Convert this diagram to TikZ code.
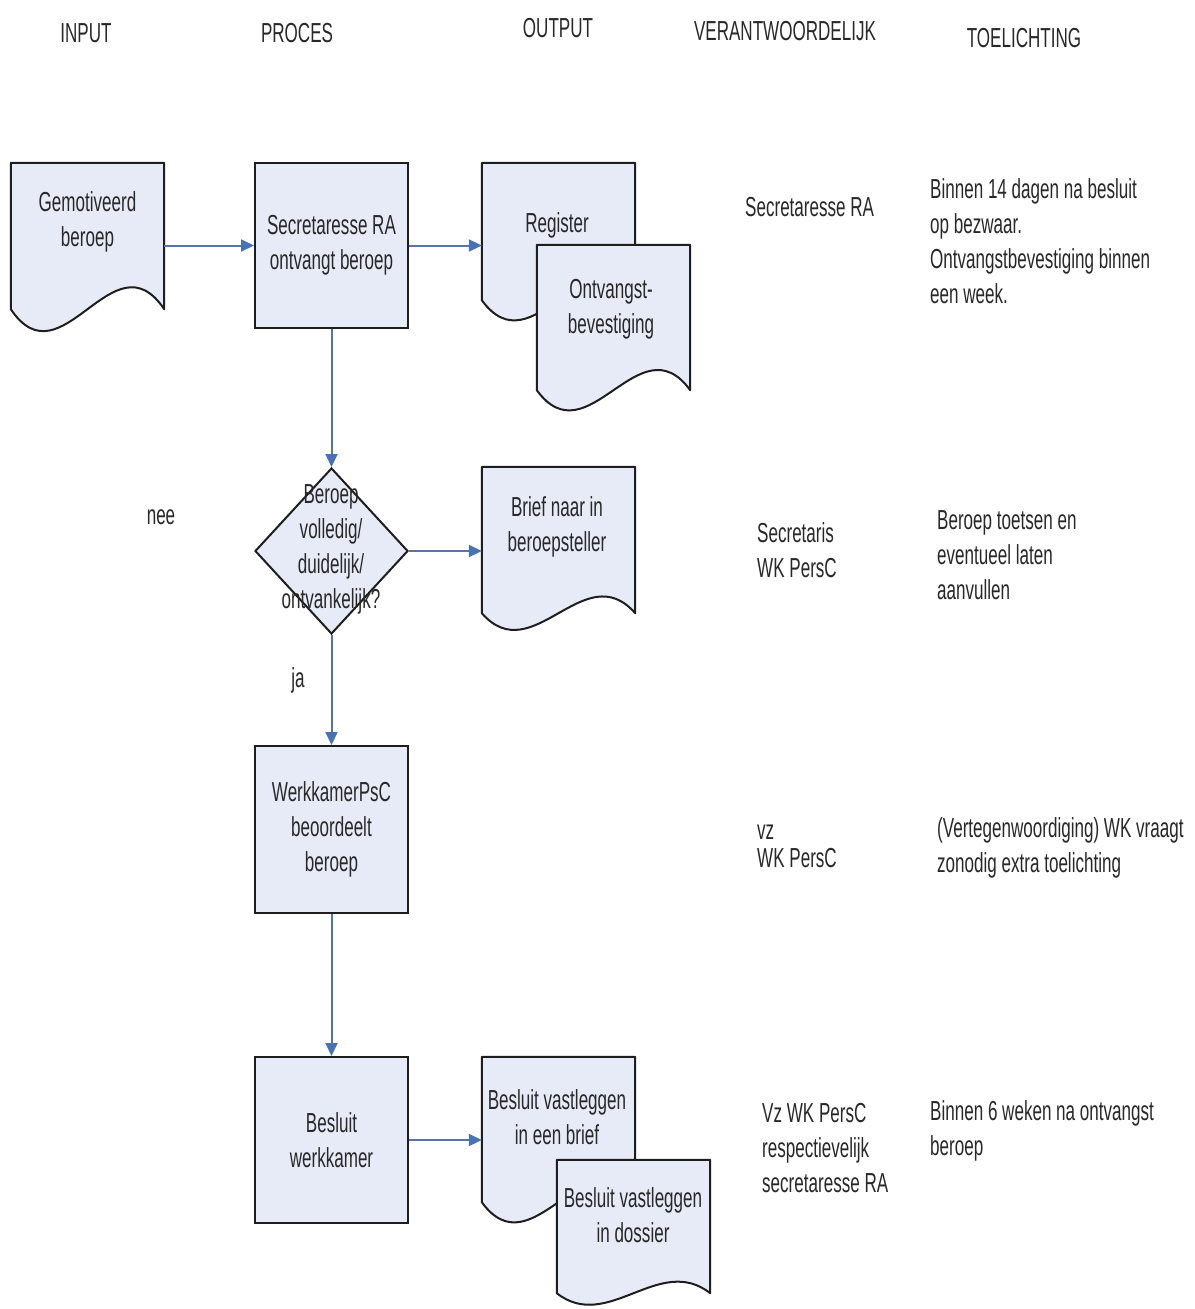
\documentclass[tikz,border=0pt]{standalone}
\usepackage{fontspec}
\setmainfont{Liberation Sans}[FakeStretch=0.62]
\usetikzlibrary{shapes.geometric,arrows.meta,calc}
\definecolor{boxfill}{RGB}{231,235,247}
\definecolor{linecol}{RGB}{88,116,164}
\definecolor{tipcol}{RGB}{70,114,184}
\definecolor{edgecol}{RGB}{30,30,30}
\definecolor{txtcol}{RGB}{40,40,40}
\newcommand\docout[2]{%
  \path[docpath] (#1.north west) -- (#1.north east) -- (#1.south east)
    .. controls ($(#1.south east)+(-51,-#2)$) and ($(#1.south west)+(51,#2)$) .. (#1.south west) -- cycle;}
\begin{document}
\begin{tikzpicture}[x=1pt,y=-1pt,
  font=\fontsize{27.5}{35}\selectfont,
  txt/.style={inner sep=0pt, align=center, text=txtcol},
  ltxt/.style={inner sep=0pt, align=left, anchor=west, text=txtcol},
  procbox/.style={draw=edgecol, line width=2pt, fill=boxfill, minimum width=153pt, inner sep=0pt, align=center, text=txtcol},
  docbox/.style={inner sep=0pt, minimum width=153pt},
  docpath/.style={draw=edgecol, line width=2pt, fill=boxfill, line join=round},
  conn/.style={draw=linecol, line width=2pt},
  arr/.style={conn, -{Triangle[length=13pt,width=12pt,color=tipcol]}}
]
\useasboundingbox[fill=white] (0,0) rectangle (1194,1309);

% headers
\node[txt] (hin) at (86,33) {INPUT};
\node[txt] (hpr) at (297,33) {PROCES};
\node[txt] (hout) at (558,28) {OUTPUT};
\node[txt] (hver) at (785,31) {VERANTWOORDELIJK};
\node[txt] (htoe) at (1024,38) {TOELICHTING};

% shapes
\node[docbox, minimum height=146pt] (g) at (87.5,236) {};
\docout{g}{76}
\node[txt] (gt) at (87.5,222) {Gemotiveerd\\beroep};

\node[procbox, minimum height=165pt] (p1) at (331.5,245.5) {Secretaresse RA\\ontvangt beroep};

\node[docbox, minimum height=137pt] (reg) at (558.5,231.5) {};
\docout{reg}{70}
\node[txt] (regt) at (557,225) {Register};

\node[docbox, minimum height=145pt] (ont) at (613.5,317.5) {};
\docout{ont}{70}
\node[txt] (ontt) at (611,309) {Ontvangst-\\bevestiging};

\node[diamond, draw=edgecol, line width=2pt, fill=boxfill, minimum width=153pt, minimum height=166pt, inner sep=0pt] (d) at (331.5,551) {};
\node[txt] (dt) at (331,549) {Beroep\\volledig/\\duidelijk/\\ontvankelijk?};

\node[docbox, minimum height=146pt] (brief) at (558.5,540) {};
\docout{brief}{58}
\node[txt] (brieft) at (557,527) {Brief naar in\\beroepsteller};

\node[txt] (nee) at (161,517) {nee};
\node[txt] (ja) at (298,680) {ja};

\node[procbox, minimum height=167pt] (p2) at (331.5,829.5) {WerkkamerPsC\\beoordeelt\\beroep};
\node[procbox, minimum height=166pt] (p3) at (331.5,1140) {Besluit\\werkkamer};

\node[docbox, minimum height=145pt] (bv1) at (558.5,1129.5) {};
\docout{bv1}{70}
\node[txt] (bv1t) at (557,1117) {Besluit vastleggen\\in een brief};

\node[docbox, minimum height=133pt] (bv2) at (633.5,1226.5) {};
\docout{bv2}{40}
\node[txt] (bv2t) at (633,1215) {Besluit vastleggen\\in dossier};

% connectors
\draw[arr] (g.east |- p1.west) -- (p1.west);
\draw[arr] (p1.east) -- (p1.east -| reg.west);
\draw[arr] (p1.south) -- (d.north);
\draw[arr] (d.east) -- (d.east -| brief.west);
\draw[arr] (d.south) -- (p2.north);
\draw[arr] (p2.south) -- (p3.north);
\draw[arr] (p3.east) -- (p3.east -| bv1.west);

% verantwoordelijk
\node[ltxt] (v1) at (745,207) {Secretaresse RA};
\node[ltxt] (v2) at (757,550) {Secretaris\\WK PersC};
\node[ltxt] (v3) at (757,846) {vz\\[-7pt]WK PersC};
\node[ltxt] (v4) at (762,1148) {Vz WK PersC\\respectievelijk\\secretaresse RA};

% toelichting
\node[ltxt] (t1) at (930,241) {Binnen 14 dagen na besluit\\op bezwaar.\\Ontvangstbevestiging binnen\\een week.};
\node[ltxt] (t2) at (937,555) {Beroep toetsen en\\eventueel laten\\aanvullen};
\node[ltxt] (t3) at (937,848) {(Vertegenwoordiging) WK vraagt\\zonodig extra toelichting};
\node[ltxt] (t4) at (930,1131) {Binnen 6 weken na ontvangst\\beroep};
\end{tikzpicture}
\end{document}
